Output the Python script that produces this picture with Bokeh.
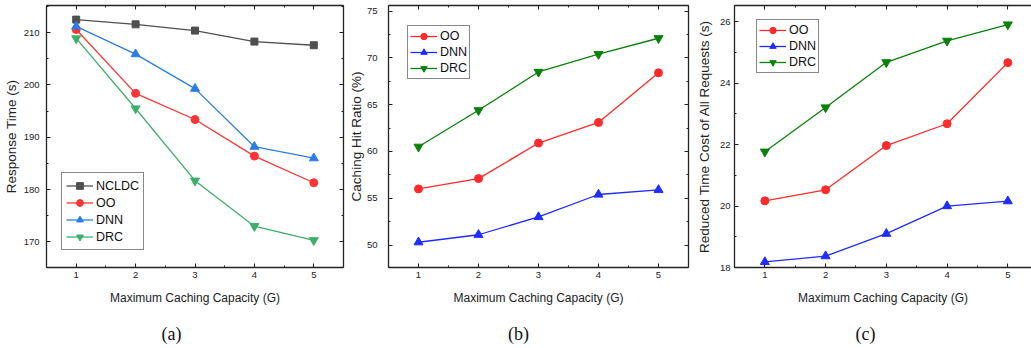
from bokeh.plotting import figure
from bokeh.layouts import row, column
from bokeh.models import (LinearAxis, SingleIntervalTicker, Range1d, Legend,
                          CustomJSTickFormatter)
from bokeh.core.properties import value
from bokeh.embed import file_html
from bokeh.resources import INLINE

# ---- data -------------------------------------------------------------
capacity = [1, 2, 3, 4, 5]

# (a) response time (s)
resp_ncldc = [212.5, 211.6, 210.4, 208.3, 207.6]
resp_oo = [210.6, 198.4, 193.4, 186.4, 181.3]
resp_dnn = [211.2, 205.9, 199.3, 188.2, 186.0]
resp_drc = [208.9, 195.5, 181.7, 173.0, 170.3]

# (b) caching hit ratio (%)
hit_oo = [56.0, 57.1, 60.9, 63.1, 68.4]
hit_dnn = [50.3, 51.1, 53.0, 55.4, 55.9]
hit_drc = [60.5, 64.4, 68.5, 70.4, 72.1]

# (c) reduced time cost of all requests (s)
red_oo = [20.17, 20.53, 21.97, 22.68, 24.67]
red_dnn = [18.18, 18.37, 19.10, 20.00, 20.16]
red_drc = [21.77, 23.21, 24.68, 25.38, 25.91]

captions = ["(a)", "(b)", "(c)"]

SANS = "Liberation Sans"
SERIF = "Liberation Serif"
AX = "#222222"
PANEL_H = 318
CAP_H = 30
TOP, FRAME_H = 5, 262


def make_panel(width, left, right, xr, yr, yint, ylabel, tick_standoff,
               title_standoff):
    p = figure(width=width, height=PANEL_H, output_backend="svg",
               toolbar_location=None, x_range=Range1d(*xr), y_range=Range1d(*yr),
               min_border_left=left, min_border_right=right,
               min_border_top=TOP, min_border_bottom=PANEL_H - TOP - FRAME_H,
               x_axis_type=None, y_axis_type=None)
    p.background_fill_color = "white"
    p.border_fill_color = "white"
    p.outline_line_color = None
    p.xgrid.visible = False
    p.ygrid.visible = False

    def style(ax, labels=True):
        ax.axis_line_color = AX
        ax.axis_line_width = 1.3
        ax.major_tick_line_color = AX
        ax.minor_tick_line_color = AX
        ax.major_tick_in = 4
        ax.major_tick_out = 0
        ax.minor_tick_in = 2
        ax.minor_tick_out = 0
        ax.major_tick_line_width = 1.1
        ax.minor_tick_line_width = 1.0
        if labels:
            ax.major_label_text_font = SANS
            ax.major_label_text_font_size = "9.5px"
            ax.major_label_text_color = AX
            ax.axis_label_text_font = SANS
            ax.axis_label_text_font_style = "normal"
            ax.axis_label_text_color = AX
        else:
            ax.formatter = CustomJSTickFormatter(code="return ''")
            ax.major_label_text_font_size = "0px"
            ax.major_label_standoff = 0

    xb = LinearAxis(ticker=SingleIntervalTicker(interval=1, num_minor_ticks=2),
                    axis_label="Maximum Caching Capacity (G)")
    style(xb)
    xb.axis_label_text_font_size = "12px"
    xb.major_label_standoff = 4
    xb.axis_label_standoff = 10
    p.add_layout(xb, "below")

    yl = LinearAxis(ticker=SingleIntervalTicker(interval=yint, num_minor_ticks=2),
                    axis_label=ylabel)
    style(yl)
    yl.axis_label_text_font_size = "13.5px"
    yl.major_label_standoff = tick_standoff
    yl.axis_label_standoff = title_standoff
    p.add_layout(yl, "left")

    xt = LinearAxis(ticker=SingleIntervalTicker(interval=1, num_minor_ticks=2))
    style(xt, labels=False)
    p.add_layout(xt, "above")
    if right > 0:
        yr_ax = LinearAxis(ticker=SingleIntervalTicker(interval=yint, num_minor_ticks=2))
        style(yr_ax, labels=False)
        p.add_layout(yr_ax, "right")
    return p


def series(p, ys, color, marker, name, size):
    r1 = p.line(capacity, ys, line_color=color, line_width=1.3)
    r2 = p.scatter(capacity, ys, marker=marker, size=size,
                   fill_color=color, line_color=color)
    return (name, [r1, r2])


def add_legend(p, items, loc, height, padding):
    lg = Legend(items=items, location=loc, label_text_font=SANS,
                label_text_font_size="12.5px", label_text_color="#111111",
                glyph_width=27, glyph_height=height, label_height=height,
                label_standoff=3, spacing=0, padding=padding, margin=0,
                border_line_color="#111111", border_line_width=1,
                background_fill_color="white", background_fill_alpha=1)
    p.add_layout(lg, "center")


# ---- (a) ----------------------------------------------------------------
pa = make_panel(345, 46, 2, (0.5, 5.5), (165.1, 215.2), 10, "Response Time (s)",
                7, 2)
items_a = [
    series(pa, resp_ncldc, "#4f4f4f", "square", "NCLDC", 7),
    series(pa, resp_oo, "#fb3535", "circle", "OO", 8),
    series(pa, resp_dnn, "#2b7de6", "triangle", "DNN", 9),
    series(pa, resp_drc, "#3fae6c", "inverted_triangle", "DRC", 9),
]
add_legend(pa, items_a, (15, 17), 17, 4)

# ---- (b) ----------------------------------------------------------------
pb = make_panel(345, 43, 2, (0.5, 5.5), (47.6, 75.6), 5, "Caching Hit Ratio (%)",
                11, 0)
items_b = [
    series(pb, hit_oo, "#ff2a2a", "circle", "OO", 8),
    series(pb, hit_dnn, "#1f2bff", "triangle", "DNN", 9),
    series(pb, hit_drc, "#0b800b", "inverted_triangle", "DRC", 9),
]
add_legend(pb, items_b, (19, 188), 16, 2)

# ---- (c) ----------------------------------------------------------------
pc = make_panel(341, 44, 0, (0.5, 5.39), (18.0, 26.53), 2,
                "Reduced Time Cost of All Requests (s)", 4, 5)
items_c = [
    series(pc, red_oo, "#ff2a2a", "circle", "OO", 8),
    series(pc, red_dnn, "#1f2bff", "triangle", "DNN", 9),
    series(pc, red_drc, "#0b800b", "inverted_triangle", "DRC", 9),
]
add_legend(pc, items_c, (22, 194), 16, 2)

# ---- caption strip (pixel coordinates across the full width) -----------
strip = figure(width=1031, height=CAP_H, output_backend="svg",
               toolbar_location=None, x_range=Range1d(0, 1031),
               y_range=Range1d(0, CAP_H), min_border=0,
               x_axis_type=None, y_axis_type=None)
strip.outline_line_color = None
strip.xgrid.visible = False
strip.ygrid.visible = False
strip.text(x=[171, 518, 865], y=[CAP_H - 15] * 3, text=captions,
           text_font=value(SERIF), text_font_size="18px", text_color="#111111",
           text_align="center", text_baseline="middle")

layout = column(row(pa, pb, pc, spacing=0), strip, spacing=0)
open("out.html", "w").write(file_html(layout, INLINE))
